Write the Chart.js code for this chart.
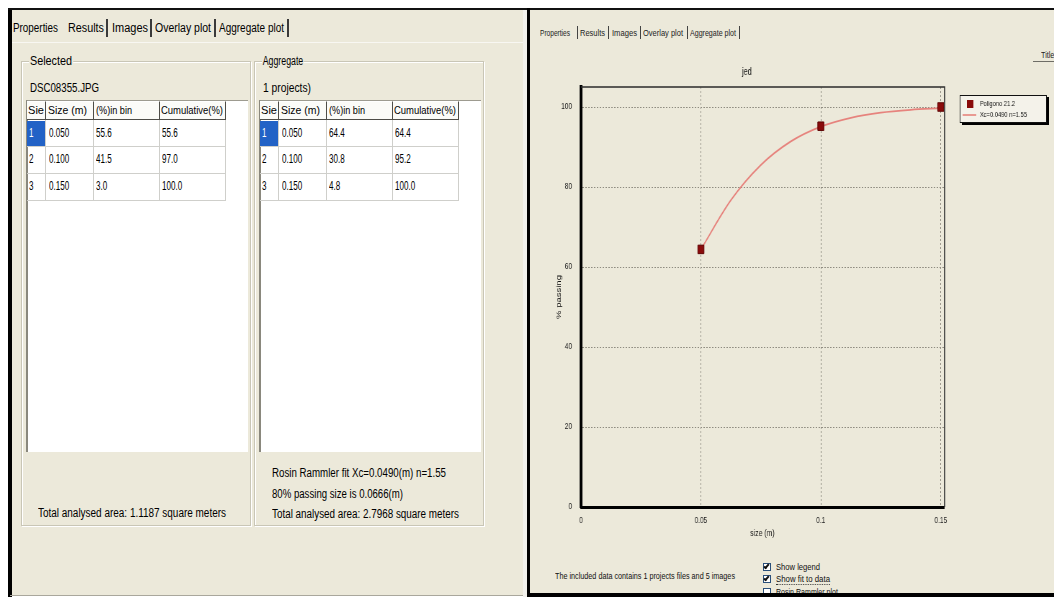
<!DOCTYPE html>
<html>
<head>
<meta charset="utf-8">
<title>Results / Overlay plot</title>
<script src="https://cdn.jsdelivr.net/npm/chart.js@4.4.1/dist/chart.umd.min.js"></script>
<style>
  html, body { margin: 0; padding: 0; background: #fff; width: 1054px; height: 597px; overflow: hidden;
    font-family: "Liberation Sans", Arial, sans-serif; }
  #root { position: relative; width: 1054px; height: 597px; overflow: hidden; }
  .abs { position: absolute; box-sizing: border-box; }
  .t { position: absolute; white-space: nowrap; line-height: 1; transform-origin: 0 50%; color: #000; }
  #plotWrap { position: absolute; left: 527px; top: 55px; width: 732px; height: 490px; transform-origin: 0 0; }
</style>
</head>
<body>
<div id="root"></div>
<script>
// ---- size classes and results ----
const sizeBins = [0.050, 0.100, 0.150];
const selectedInBin = [55.6, 41.5, 3.0];
const selectedCumulative = [55.6, 97.0, 100.0];
const aggregateInBin = [64.4, 30.8, 4.8];
const aggregateCumulative = [64.4, 95.2, 100.0];

// Rosin-Rammler fit curve (size in m, % passing)
const fitSizes = [0.05, 0.0625, 0.075, 0.0875, 0.1, 0.1125, 0.125, 0.1375, 0.15];
const fitPassing = [64.4, 76.7, 85.5, 91.4, 95.1, 97.3, 98.6, 99.3, 99.7];

// axis ticks
const xTickValues = [0, 0.05, 0.1, 0.15];
const xTickLabels = ['0', '0.05', '0.1', '0.15'];
const yTickValues = [0, 20, 40, 60, 80, 100];
const yTickLabels = ['0', '20', '40', '60', '80', '100'];

const seriesLabel = 'Poligono 21.2';
const fitLabel = 'Xc=0.0490 n=1.55';

const BG = '#ece9da';
const root = document.getElementById('root');

function box(x, y, w, h, css) {
  const d = document.createElement('div');
  d.className = 'abs';
  d.style.cssText = `left:${x}px;top:${y}px;width:${w}px;height:${h}px;` + (css || '');
  root.appendChild(d);
  return d;
}
// text with its vertical centre at cy; squeezed to width w, or by factor sx
function text(str, x, cy, size, opt) {
  opt = opt || {};
  const s = document.createElement('span');
  s.className = 't';
  s.textContent = str;
  s.style.fontSize = size + 'px';
  s.style.left = x + 'px';
  s.style.top = (cy - size * 0.5) + 'px';
  if (opt.css) s.style.cssText += opt.css;
  root.appendChild(s);
  let k = opt.sx || 1;
  if (opt.w) k = opt.w / s.getBoundingClientRect().width;
  s.style.transform = `scaleX(${k})`;
  return s;
}

// ---------- window frames ----------
box(10, 10, 515, 586, `background:${BG}`);
box(8, 9, 4, 588, 'background:#000');
box(8, 8, 1046, 2, 'background:#111');
box(10, 595, 515, 1, 'background:#a9a79c');
box(523, 10, 4, 587, 'background:#f2f1ec');
box(530, 10, 524, 584, `background:${BG}`);

// ---------- left window: tabs ----------
const tabs = [['Properties', 13, 45], ['Results', 68, 36], ['Images', 112, 36], ['Overlay plot', 155, 56], ['Aggregate plot', 219, 65]];
const tabSeps = [106, 150, 214, 287];
tabs.forEach(([s, x, w]) => text(s, x, 28, 12, { w }));
tabSeps.forEach(x => box(x, 19, 1.5, 18, 'background:#3a3a3a'));
box(12, 42, 511, 1, 'background:#f8f7f2');

// ---------- group boxes with list views ----------
const headers = ['Sie', 'Size (m)', '(%)in bin', 'Cumulative(%)'];
const colEdges = [27, 46, 94, 160, 226];
const headerTextX = [28, 48, 96, 161];
const headerW = [16, 39, 36, 62];
const cellTextX = [29, 49, 96, 162];
const rowTop = [120, 146, 173, 200];

function groupBox(dx, title, titleW, subtitle, subW) {
  box(21 + dx, 61, 230, 465, 'border:1px solid #c9c6b6;box-shadow:1px 1px 0 #fff, inset 1px 1px 0 #fff');
  text(title, 29 + dx, 61, 12, { w: titleW, css: `background:${BG};padding:0 1px` });
  text(subtitle, 30 + dx, 88, 12, { w: subW });
}

function listView(dx, inBin, cumulative) {
  box(26 + dx, 100, 222, 352, 'background:#fff;border-left:2px solid #8a887d;border-top:1px solid #9d9b90');
  for (let i = 0; i < 4; i++) {
    box(colEdges[i] + dx, 101, colEdges[i + 1] - colEdges[i], 19,
      'background:#fbfbf8;border-right:1px solid #4e4d48;border-bottom:1px solid #4e4d48;border-top:1px solid #fff');
    text(headers[i], headerTextX[i] + dx, 110, 11, { w: headerW[i] });
  }
  box(27 + dx, 121, 19, 25, 'background:#2262c6');
  for (let r = 0; r < 3; r++) {
    box(27 + dx, rowTop[r + 1], 199, 1, 'background:#cfcfcb');
  }
  for (let i = 1; i < 5; i++) box(colEdges[i] + dx - 1, 120, 1, 80, 'background:#cfcfcb');
  for (let r = 0; r < 3; r++) {
    const cy = rowTop[r] + 12.5;
    const cells = [String(r + 1), sizeBins[r].toFixed(3), inBin[r].toFixed(1), cumulative[r].toFixed(1)];
    cells.forEach((c, i) => text(c, cellTextX[i] + dx, cy, 13,
      { sx: 0.62, css: (r === 0 && i === 0) ? 'color:#fff' : '' }));
  }
}

groupBox(0, 'Selected', 44, 'DSC08355.JPG', 69);
listView(0, selectedInBin, selectedCumulative);
text('Total analysed area: 1.1187 square meters', 38, 513, 12, { w: 188 });

groupBox(233, 'Aggregate', 42, '1 projects)', 48);
listView(233, aggregateInBin, aggregateCumulative);
text('Rosin Rammler fit Xc=0.0490(m) n=1.55', 272, 473, 12, { w: 174 });
text('80% passing size is 0.0666(m)', 272, 494, 12, { w: 131 });
text('Total analysed area: 2.7968 square meters', 272, 514, 12, { w: 187 });

// ---------- right window: tabs, controls ----------
const rTabs = [['Properties', 540, 30], ['Results', 580, 25], ['Images', 612, 25], ['Overlay plot', 643, 40], ['Aggregate plot', 690, 46]];
const rSeps = [577, 608, 640, 687, 739];
rTabs.forEach(([s, x, w]) => text(s, x, 33, 9, { w, css: 'color:#222' }));
rSeps.forEach(x => box(x, 26, 1, 13, 'background:#444'));
text('Title', 1041, 55, 9, { sx: 0.8, css: 'color:#222' });
box(1033, 61, 21, 1, 'background:#6e6d66');

text('The included data contains 1 projects files and 5 images', 555, 576, 9, { w: 180, css: 'color:#111' });
function checkBox(cy, checked, label, w, focus) {
  box(763, cy - 4, 8, 8, 'background:#fff;border:1px solid #2a4f7a');
  if (checked) box(765, cy - 4, 3, 6, 'border-right:2px solid #111;border-bottom:2px solid #111;transform:rotate(40deg)');
  text(label, 776, cy, 9, { w, css: 'color:#111' + (focus ? ';border-bottom:1px dotted #333' : '') });
}
checkBox(567, true, 'Show legend', 44);
checkBox(579, true, 'Show fit to data', 54, true);
checkBox(592, false, 'Rosin Rammler plot', 62);

// ---------- plot ----------
const wrap = document.createElement('div');
wrap.id = 'plotWrap';
const SX = 527 / 732;
wrap.style.transform = `scaleX(${SX})`;
const cv = document.createElement('canvas');
cv.width = 732; cv.height = 490;
cv.style.width = '732px'; cv.style.height = '490px';
wrap.appendChild(cv);
root.appendChild(wrap);

// black bars drawn over the plot window edges
box(527, 8, 3, 589, 'background:#000');
box(527, 593, 527, 4, 'background:#000');

Chart.defaults.font.family = '"Liberation Sans", Arial, sans-serif';

// thin top/right edge of the plotting frame
const plotFrame = {
  id: 'plotFrame',
  beforeDatasetsDraw(chart) {
    const { ctx, chartArea: a } = chart;
    ctx.save();
    ctx.strokeStyle = '#2b2b2b';
    ctx.lineWidth = 1.6;
    ctx.beginPath();
    ctx.moveTo(a.left, a.top);
    ctx.lineTo(a.right + 1, a.top);
    ctx.lineTo(a.right + 1, a.bottom);
    ctx.stroke();
    ctx.restore();
  }
};

// framed legend with a drop shadow, to the right of the plot
const boxedLegend = {
  id: 'boxedLegend',
  afterDraw(chart) {
    const { ctx, chartArea: a } = chart;
    const x = a.right + 22, y = a.top + 8, w = 121, h = 28;
    ctx.save();
    ctx.fillStyle = '#000';
    ctx.fillRect(x + 3, y + 2, w, h);
    ctx.fillStyle = '#f4f2ea';
    ctx.fillRect(x, y, w, h);
    ctx.strokeStyle = '#111';
    ctx.lineWidth = 1;
    ctx.strokeRect(x + 0.5, y + 0.5, w - 1, h - 1);
    ctx.font = '8px "Liberation Sans", Arial, sans-serif';
    ctx.textBaseline = 'middle';
    chart.data.datasets.forEach((ds, i) => {
      const cy = y + 9 + i * 11;
      if (ds.showLine) {
        ctx.strokeStyle = ds.borderColor;
        ctx.lineWidth = 1.6;
        ctx.beginPath();
        ctx.moveTo(x + 4, cy);
        ctx.lineTo(x + 23, cy);
        ctx.stroke();
      } else {
        ctx.fillStyle = ds.backgroundColor;
        ctx.fillRect(x + 10, cy - 4, 9, 8);
      }
      ctx.fillStyle = '#111';
      ctx.fillText(ds.label, x + 28, cy);
    });
    ctx.restore();
  }
};

const tickFont = { size: 9 };
const pickLabel = (vals, labels) => v => {
  const i = vals.findIndex(t => Math.abs(t - v) < 1e-9);
  return i < 0 ? '' : labels[i];
};

new Chart(cv.getContext('2d'), {
  type: 'scatter',
  data: {
    datasets: [
      {
        label: seriesLabel,
        data: sizeBins.map((x, i) => ({ x, y: aggregateCumulative[i] })),
        pointStyle: 'rect',
        pointRadius: 6,
        pointHoverRadius: 6,
        backgroundColor: '#8a0b0b',
        borderColor: '#5c0000',
        borderWidth: 1,
        showLine: false,
        order: 1
      },
      {
        label: fitLabel,
        data: fitSizes.map((x, i) => ({ x, y: fitPassing[i] })),
        showLine: true,
        borderColor: '#e6837d',
        backgroundColor: '#e6837d',
        borderWidth: 1.8,
        pointRadius: 0,
        pointHoverRadius: 0,
        cubicInterpolationMode: 'monotone',
        fill: false,
        order: 2
      }
    ]
  },
  options: {
    responsive: false,
    animation: false,
    devicePixelRatio: 1,
    events: [],
    layout: { padding: { left: 32, right: 732 - 579, top: 0, bottom: 0 } },
    plugins: {
      legend: { display: false },
      tooltip: { enabled: false },
      title: {
        display: true, text: 'jed', color: '#111',
        font: { size: 10, weight: 'normal' },
        padding: { top: 11, bottom: 9 }
      }
    },
    scales: {
      x: {
        type: 'linear', position: 'bottom', min: 0, max: 0.1513,
        afterBuildTicks: s => { s.ticks = xTickValues.map(value => ({ value })); },
        afterFit: s => { s.height = 38; },
        ticks: { callback: pickLabel(xTickValues, xTickLabels), font: tickFont, color: '#222',
          padding: 8, maxRotation: 0, autoSkip: false },
        grid: { color: '#8f8c80', lineWidth: 1, drawTicks: false },
        border: { color: '#000', width: 3, dash: [2, 2] },
        title: { display: true, text: 'size (m)', color: '#111', font: { size: 9.5 },
          padding: { top: 0, bottom: 6.3 } }
      },
      y: {
        type: 'linear', position: 'left', min: 0, max: 105,
        afterBuildTicks: s => { s.ticks = yTickValues.map(value => ({ value })); },
        afterFit: s => { s.width = 43; },
        ticks: { callback: pickLabel(yTickValues, yTickLabels), font: tickFont, color: '#222',
          padding: 12.5, autoSkip: false },
        grid: { color: '#8f8c80', lineWidth: 1, drawTicks: false },
        border: { color: '#000', width: 4, dash: [2, 2] },
        title: { display: true, text: '% passing', color: '#111', font: { size: 9.5 },
          padding: { top: 6.7, bottom: 0 } }
      }
    }
  },
  plugins: [plotFrame, boxedLegend]
});
</script>
</body>
</html>
